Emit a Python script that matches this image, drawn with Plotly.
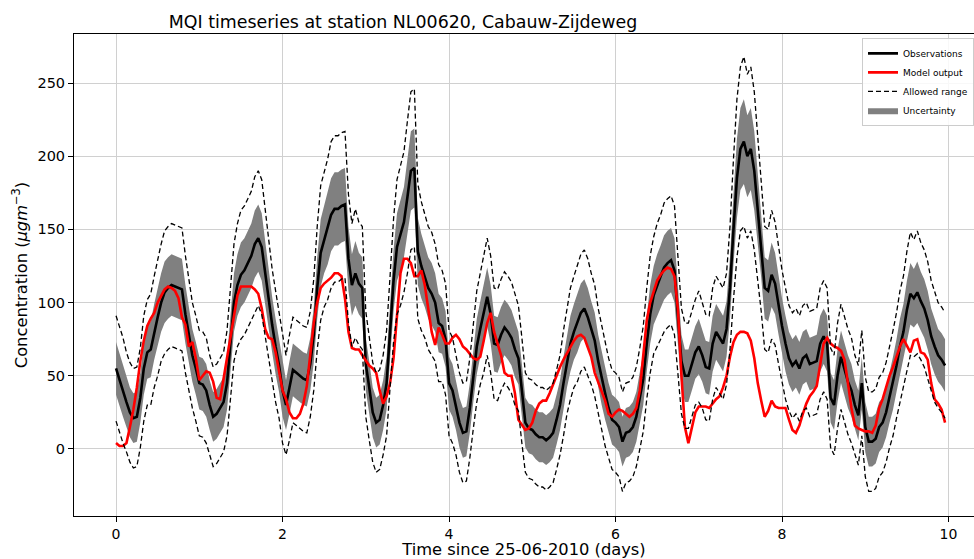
import numpy as np
import plotly.graph_objects as go

# Hourly values (one row per day)
observations = [
    55, 47, 40, 32, 25, 21, 22, 35, 55, 66, 68, 80, 90, 100, 107, 110, 112, 111, 110, 109, 92, 78, 64, 55,
    45, 44, 40, 30, 22, 24, 28, 32, 45, 72, 100, 112, 119, 122, 127, 132, 140, 144, 138, 120, 102, 85, 70, 57,
    40, 30, 42, 54, 52, 50, 48, 47, 58, 78, 110, 134, 143, 150, 160, 164, 164, 166, 167, 130, 112, 120, 113, 110,
    58, 42, 25, 18, 20, 30, 45, 80, 115, 138, 146, 155, 172, 190, 192, 135, 125, 118, 110, 106, 100, 86, 84, 75,
    45, 40, 30, 18, 11, 12, 28, 50, 70, 82, 92, 104, 92, 72, 71, 78, 83, 80, 76, 68, 62, 40, 18, 14,
    13, 10, 8, 8, 6, 8, 11, 20, 30, 45, 60, 72, 80, 86, 93, 96, 90, 82, 74, 60, 48, 38, 28, 20,
    18, 15, 5, 11, 12, 15, 22, 35, 48, 72, 92, 105, 112, 118, 124, 127, 129, 122, 90, 60, 50, 50, 58, 66,
    70, 64, 56, 55, 72, 80, 76, 72, 82, 110, 150, 185, 205, 210, 200, 205, 190, 165, 140, 110, 108, 119, 113, 98,
    84, 72, 62, 57, 60, 55, 62, 64, 58, 59, 60, 72, 77, 72, 35, 30, 50, 63, 55, 46, 40, 30, 23, 45,
    15, 5, 5, 7, 15, 18, 25, 35, 45, 57, 70, 80, 95, 106, 103, 107, 101, 96, 88, 77, 70, 64, 61, 57,
]

model_output = [
    4, 2, 2, 4, 15, 27, 42, 60, 74, 84, 89, 93, 100, 104, 109, 111, 110, 108, 103, 90, 85, 70, 73, 62,
    47, 50, 53, 52, 46, 35, 34, 48, 63, 77, 93, 105, 111, 111, 111, 111, 109, 106, 96, 82, 76, 75, 66, 52,
    40, 34, 25, 21, 21, 24, 31, 43, 63, 86, 100, 110, 113, 115, 117, 120, 120, 118, 103, 80, 69, 68, 68, 64,
    60, 57, 55, 52, 40, 31, 36, 45, 62, 92, 120, 130, 130, 127, 118, 118, 122, 112, 96, 80, 71, 83, 78, 72,
    72, 76, 78, 75, 70, 68, 65, 62, 61, 63, 74, 86, 93, 80, 72, 64, 52, 50, 50, 38, 20, 16, 13, 14,
    18, 26, 31, 33, 33, 38, 44, 51, 56, 61, 65, 70, 74, 77, 78, 76, 70, 63, 52, 46, 40, 33, 24, 22,
    25, 27, 26, 24, 22, 24, 28, 40, 63, 88, 100, 108, 115, 119, 122, 124, 123, 118, 95, 50, 15, 4, 15, 25,
    29, 29, 29, 28, 31, 34, 36, 42, 50, 63, 73, 78, 80, 80, 79, 74, 62, 45, 33, 22, 26, 33, 29, 28,
    28, 28, 20, 13, 11, 16, 24, 31, 36, 39, 43, 58, 72, 76, 72, 70, 69, 67, 61, 45, 28, 16, 14, 13,
    12, 12, 11, 16, 28, 34, 43, 50, 56, 63, 70, 75, 70, 66, 74, 75, 66, 65, 61, 45, 34, 31, 27, 18,
]

# Half-width of the grey uncertainty band
uncertainty = [
    18, 18, 18, 17, 17, 17, 17, 17, 18, 18, 19, 19, 20, 20, 21, 21, 21, 21, 21, 21, 20, 19, 18, 18,
    18, 18, 18, 17, 17, 17, 17, 17, 18, 19, 20, 21, 22, 22, 22, 22, 23, 23, 23, 22, 20, 19, 19, 18,
    18, 17, 18, 18, 18, 18, 18, 18, 18, 19, 21, 23, 23, 24, 25, 25, 25, 25, 25, 22, 21, 22, 21, 21,
    18, 18, 17, 17, 17, 17, 18, 19, 21, 23, 24, 24, 26, 27, 27, 23, 22, 21, 21, 21, 20, 20, 19, 19,
    18, 18, 17, 17, 17, 17, 17, 18, 19, 19, 20, 20, 20, 19, 19, 19, 19, 19, 19, 19, 18, 18, 17, 17,
    17, 17, 17, 17, 17, 17, 17, 17, 17, 18, 18, 19, 19, 20, 20, 20, 20, 19, 19, 18, 18, 18, 17, 17,
    17, 17, 17, 17, 17, 17, 17, 17, 18, 19, 20, 20, 21, 21, 22, 22, 22, 22, 20, 18, 18, 18, 18, 18,
    19, 18, 18, 18, 19, 19, 19, 19, 19, 21, 24, 27, 28, 29, 28, 28, 27, 25, 23, 21, 21, 22, 21, 20,
    19, 19, 18, 18, 18, 18, 18, 18, 18, 18, 18, 19, 19, 19, 17, 17, 18, 18, 18, 18, 18, 17, 17, 18,
    17, 17, 17, 17, 17, 17, 17, 17, 18, 18, 19, 19, 20, 21, 20, 21, 20, 20, 20, 19, 19, 18, 18, 18,
]

x_ticks = [0, 2, 4, 6, 8, 10]
y_ticks = [0, 50, 100, 150, 200, 250]

time_days = np.arange(len(observations)) / 24.0  # hourly samples
obs = np.array(observations, dtype=float)
unc = np.array(uncertainty, dtype=float)
mod = np.array(model_output, dtype=float)

FONT = "DejaVu Sans"
fig = go.Figure()

# Uncertainty band (grey)
fig.add_trace(go.Scatter(x=time_days, y=obs - unc, mode="lines", line=dict(width=0, color="#808080"),
                         showlegend=False, hoverinfo="skip"))
fig.add_trace(go.Scatter(x=time_days, y=obs + unc, mode="lines", line=dict(width=0, color="#808080"),
                         fill="tonexty", fillcolor="#808080", name="Uncertainty", legendrank=4))

fig.add_trace(go.Scatter(x=time_days, y=obs, mode="lines", line=dict(color="black", width=2.6),
                         name="Observations", legendrank=1))
fig.add_trace(go.Scatter(x=time_days, y=mod, mode="lines", line=dict(color="red", width=2.6),
                         name="Model output", legendrank=2))
fig.add_trace(go.Scatter(x=time_days, y=obs + 2 * unc, mode="lines",
                         line=dict(color="black", width=1.3, dash="5px,3px"),
                         name="Allowed range", legendrank=3))
fig.add_trace(go.Scatter(x=time_days, y=obs - 2 * unc, mode="lines",
                         line=dict(color="black", width=1.3, dash="5px,3px"),
                         showlegend=False))

fig.update_layout(
    width=974, height=559,
    margin=dict(l=74, r=0, t=34, b=43),
    paper_bgcolor="white", plot_bgcolor="white",
    font=dict(family=FONT, color="black", size=14),
    title=dict(text="MQI timeseries at station NL00620, Cabauw-Zijdeweg",
               font=dict(family=FONT, size=17.4, color="black"),
               xref="container", yref="container", x=403 / 974, xanchor="center",
               y=1 - 22 / 559, yanchor="middle"),
    legend=dict(x=1.0, y=0.992, xanchor="right", yanchor="top", traceorder="normal",
                bgcolor="rgba(255,255,255,0.85)", bordercolor="#cccccc", borderwidth=1,
                font=dict(family=FONT, size=9, color="black"), itemwidth=30,
                tracegroupgap=0),
    showlegend=True,
)

fig.update_xaxes(range=[-0.505, 10.306], tickvals=x_ticks, ticktext=[str(v) for v in x_ticks],
                 showgrid=True, gridcolor="#d0d0d0", gridwidth=1, zeroline=False,
                 showline=True, linecolor="black", linewidth=1, mirror=True,
                 ticks="outside", ticklen=5, tickcolor="black", tickfont=dict(size=14),
                 title=dict(text="Time since 25-06-2010 (days)", font=dict(size=16.3), standoff=6))
fig.update_yaxes(range=[-45.8, 283.5], tickvals=y_ticks, ticktext=[str(v) for v in y_ticks],
                 showgrid=True, gridcolor="#d0d0d0", gridwidth=1, zeroline=False,
                 showline=True, linecolor="black", linewidth=1, mirror=False,
                 ticks="outside", ticklen=5, tickcolor="black", tickfont=dict(size=14.5),
                 title=dict(text="Concentration (<i>μgm</i><sup>−3</sup>)", font=dict(size=16.3), standoff=5))

fig.write_html("out.html")
